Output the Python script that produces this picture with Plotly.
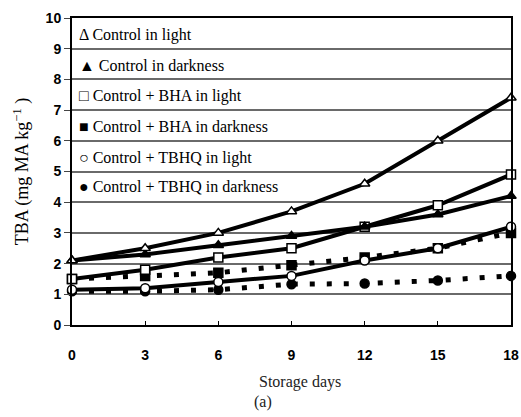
import plotly.graph_objects as go

# Storage time (days) and TBA values (mg MA/kg) per treatment
days = [0, 3, 6, 9, 12, 15, 18]
control_light = [2.1, 2.5, 3.0, 3.7, 4.6, 6.0, 7.4]
control_dark = [2.1, 2.3, 2.6, 2.9, 3.2, 3.6, 4.2]
bha_light = [1.5, 1.8, 2.2, 2.5, 3.2, 3.9, 4.9]
bha_dark = [1.5, 1.6, 1.7, 1.95, 2.2, 2.5, 3.0]
tbhq_light = [1.15, 1.2, 1.4, 1.6, 2.1, 2.5, 3.2]
tbhq_dark = [1.1, 1.1, 1.15, 1.33, 1.35, 1.45, 1.6]

legend_labels = [
    "\u0394 Control in light",
    "\u25B2 Control in darkness",
    "\u25A1 Control + BHA in light",
    "\u25A0 Control + BHA in darkness",
    "\u25CB Control + TBHQ in light",
    "\u25CF Control + TBHQ in darkness",
]
legend_y = [9.45, 8.45, 7.45, 6.45, 5.45, 4.5]

y_ticks = list(range(0, 11))

SERIF = "Liberation Serif, Times New Roman, serif"
NARROW = "Liberation Sans Narrow, Arial Narrow, Liberation Sans, sans-serif"
DOTTED = "5px,12px"

series = [
    (tbhq_dark, "circle", "black", DOTTED, 5),
    (bha_dark, "square", "black", DOTTED, 5),
    (tbhq_light, "circle", "white", "solid", 4),
    (bha_light, "square", "white", "solid", 4),
    (control_dark, "triangle-up", "black", "solid", 4),
    (control_light, "triangle-up", "white", "solid", 4),
]

fig = go.Figure()
for vals, sym, fill, dash, lw in series:
    fig.add_trace(go.Scatter(
        x=days, y=vals, mode="lines+markers",
        line=dict(color="black", width=lw, dash=dash),
        marker=dict(symbol=sym, size=9, color=fill,
                    line=dict(color="black", width=1.5)),
        showlegend=False, cliponaxis=False,
    ))

for text, yy in zip(legend_labels, legend_y):
    fig.add_annotation(
        x=0.012, xref="paper", y=yy, yref="y", text=text,
        showarrow=False, xanchor="left", yanchor="middle",
        font=dict(family=SERIF, size=16, color="black"),
    )

fig.add_annotation(
    x=0.52, xref="paper", y=-0.185, yref="paper", text="Storage days",
    showarrow=False, xanchor="center", yanchor="middle",
    font=dict(family=SERIF, size=16, color="#222"),
)
fig.add_annotation(
    x=0.435, xref="paper", y=-0.25, yref="paper", text="(a)",
    showarrow=False, xanchor="center", yanchor="middle",
    font=dict(family=SERIF, size=16, color="#222"),
)

fig.update_layout(
    width=521, height=417,
    margin=dict(l=72, r=2, t=18, b=92),
    paper_bgcolor="white", plot_bgcolor="white",
    xaxis=dict(
        range=[0, 18], tickvals=days, ticktext=[str(d) for d in days],
        ticks="inside", ticklen=4, tickcolor="black",
        showgrid=False, zeroline=False,
        showline=True, linecolor="black", linewidth=2, mirror=True,
        ticklabelstandoff=16, ticklabeloverflow="allow",
        tickfont=dict(family=NARROW, size=14, color="black", weight="bold"),
    ),
    yaxis=dict(
        range=[0, 10], tickvals=y_ticks, ticktext=[str(v) for v in y_ticks],
        ticks="outside", ticklen=6, tickcolor="#444",
        showgrid=True, gridcolor="#6a6a6a", gridwidth=1.5,
        zeroline=False,
        showline=True, linecolor="black", linewidth=2, mirror=True,
        tickfont=dict(family=NARROW, size=14, color="black", weight="bold"),
        title=dict(text="TBA (mg MA kg<sup>\u22121</sup> )",
                   font=dict(family=SERIF, size=18, color="black"),
                   standoff=12),
    ),
)

fig.write_html("out.html")
